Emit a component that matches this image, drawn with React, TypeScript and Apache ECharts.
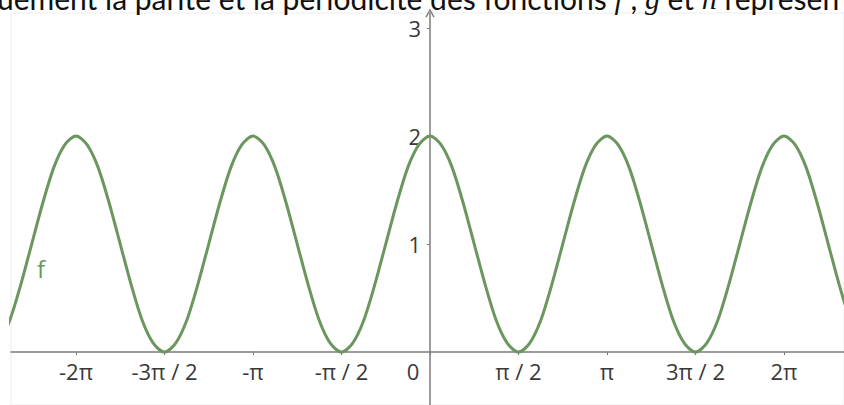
import React, { useEffect, useRef } from "react";
import * as echarts from "echarts";

// x positions in units of π, stepping by π/16
const xValues = [
  -2.5, -2.4375, -2.375, -2.3125, -2.25, -2.1875, -2.125, -2.0625, -2,
  -1.9375, -1.875, -1.8125, -1.75, -1.6875, -1.625, -1.5625, -1.5,
  -1.4375, -1.375, -1.3125, -1.25, -1.1875, -1.125, -1.0625, -1,
  -0.9375, -0.875, -0.8125, -0.75, -0.6875, -0.625, -0.5625, -0.5,
  -0.4375, -0.375, -0.3125, -0.25, -0.1875, -0.125, -0.0625, 0,
  0.0625, 0.125, 0.1875, 0.25, 0.3125, 0.375, 0.4375, 0.5,
  0.5625, 0.625, 0.6875, 0.75, 0.8125, 0.875, 0.9375, 1,
  1.0625, 1.125, 1.1875, 1.25, 1.3125, 1.375, 1.4375, 1.5,
  1.5625, 1.625, 1.6875, 1.75, 1.8125, 1.875, 1.9375, 2,
  2.0625, 2.125, 2.1875, 2.25, 2.3125, 2.375, 2.4375, 2.5,
];
// f values at those positions
const fValues = [
  0, 0.08, 0.29, 0.62, 1, 1.38, 1.71, 1.92, 2, 1.92, 1.71, 1.38, 1, 0.62, 0.29, 0.08,
  0, 0.08, 0.29, 0.62, 1, 1.38, 1.71, 1.92, 2, 1.92, 1.71, 1.38, 1, 0.62, 0.29, 0.08,
  0, 0.08, 0.29, 0.62, 1, 1.38, 1.71, 1.92, 2, 1.92, 1.71, 1.38, 1, 0.62, 0.29, 0.08,
  0, 0.08, 0.29, 0.62, 1, 1.38, 1.71, 1.92, 2, 1.92, 1.71, 1.38, 1, 0.62, 0.29, 0.08,
  0, 0.08, 0.29, 0.62, 1, 1.38, 1.71, 1.92, 2, 1.92, 1.71, 1.38, 1, 0.62, 0.29, 0.08,
  0,
];

const xTicks = [-2, -1.5, -1, -0.5, 0, 0.5, 1, 1.5, 2];
const xTickLabels = ["-2π", "-3π / 2", "-π", "-π / 2", "0", "π / 2", "π", "3π / 2", "2π"];
const yTicks = [1, 2, 3];

const WIDTH = 844;
const HEIGHT = 405;
const GRID = { left: 11, right: 0, top: 13, bottom: 0 };
const X_MIN = -2.367;
const X_MAX = 2.339;
const Y_MIN = -0.49;
const Y_MAX = 3.139;

const AXIS_COLOR = "#7b7b7b";
const CURVE_COLOR = "#6b965e";
const LABEL_COLOR = "#3a3a3a";
const ARROW = "path://M0,9 L5,0 L10,9 L8.6,9.6 L5,3 L1.4,9.6 Z";

export default function App() {
  const ref = useRef<HTMLDivElement>(null);

  useEffect(() => {
    if (!ref.current) return;
    const chart = echarts.init(ref.current, undefined, { renderer: "svg" });
    const labelFont = "'Open Sans', sans-serif";

    // the axes cross at the origin: shift each axis inward from the grid edge
    const gridW = WIDTH - GRID.left - GRID.right;
    const gridH = HEIGHT - GRID.top - GRID.bottom;
    const yAxisShift = ((0 - X_MIN) / (X_MAX - X_MIN)) * gridW;
    const xAxisShift = ((0 - Y_MIN) / (Y_MAX - Y_MIN)) * gridH;

    chart.setOption({
      animation: false,
      backgroundColor: "#ffffff",
      grid: {
        ...GRID,
        containLabel: false,
        outerBoundsMode: "none",
        show: true,
        borderColor: "#ededed",
        borderWidth: 1,
      },
      xAxis: {
        type: "value",
        min: X_MIN,
        max: X_MAX,
        position: "bottom",
        offset: -xAxisShift,
        axisLine: { onZero: false, lineStyle: { color: AXIS_COLOR, width: 1.5 } },
        axisTick: { show: true, customValues: xTicks, length: 3, lineStyle: { color: AXIS_COLOR } },
        axisLabel: {
          customValues: xTicks,
          margin: 8,
          color: LABEL_COLOR,
          fontSize: 22,
          fontFamily: labelFont,
          formatter: (v: number) => {
            const i = xTicks.findIndex((t) => Math.abs(t - v) < 1e-6);
            if (i < 0) return "";
            return v === 0 ? "{o|0}" : xTickLabels[i];
          },
          rich: {
            o: { padding: [0, 34, 0, 0], fontSize: 22, fontFamily: labelFont, color: LABEL_COLOR },
          },
        },
        splitLine: { show: false },
      },
      yAxis: {
        type: "value",
        min: Y_MIN,
        max: Y_MAX,
        position: "left",
        offset: -yAxisShift,
        axisLine: {
          onZero: false,
          symbol: ["none", ARROW],
          symbolSize: [10, 9],
          lineStyle: { color: AXIS_COLOR, width: 1.5 },
        },
        axisTick: { show: true, customValues: yTicks, length: 3, inside: false, lineStyle: { color: AXIS_COLOR } },
        axisLabel: {
          customValues: yTicks,
          margin: 9,
          color: LABEL_COLOR,
          fontSize: 22,
          fontFamily: labelFont,
        },
        splitLine: { show: false },
      },
      series: [
        {
          type: "line",
          name: "f",
          data: xValues.map((x, i) => [x, fValues[i]]),
          smooth: 0.3,
          showSymbol: false,
          lineStyle: { color: CURVE_COLOR, width: 3 },
          clip: true,
        },
      ],
      graphic: [
        {
          type: "text",
          x: 37,
          y: 256,
          style: { text: "f", fontSize: 24, fontFamily: labelFont, fill: CURVE_COLOR },
        },
        {
          type: "text",
          x: -3,
          y: 13,
          style: {
            text: "uement la parité et la périodicité des fonctions {m|f} , {m|g} et {m|h} représen",
            fontSize: 30,
            fontFamily: "Lato, sans-serif",
            fill: "#111",
            verticalAlign: "bottom",
            rich: {
              m: { fontSize: 30, fontFamily: "'Liberation Serif', serif", fontStyle: "italic", fill: "#111" },
            },
          },
        },
      ],
    });

    return () => chart.dispose();
  }, []);

  return (
    <div
      ref={ref}
      style={{ position: "fixed", left: 0, top: 0, width: WIDTH, height: HEIGHT }}
    />
  );
}
